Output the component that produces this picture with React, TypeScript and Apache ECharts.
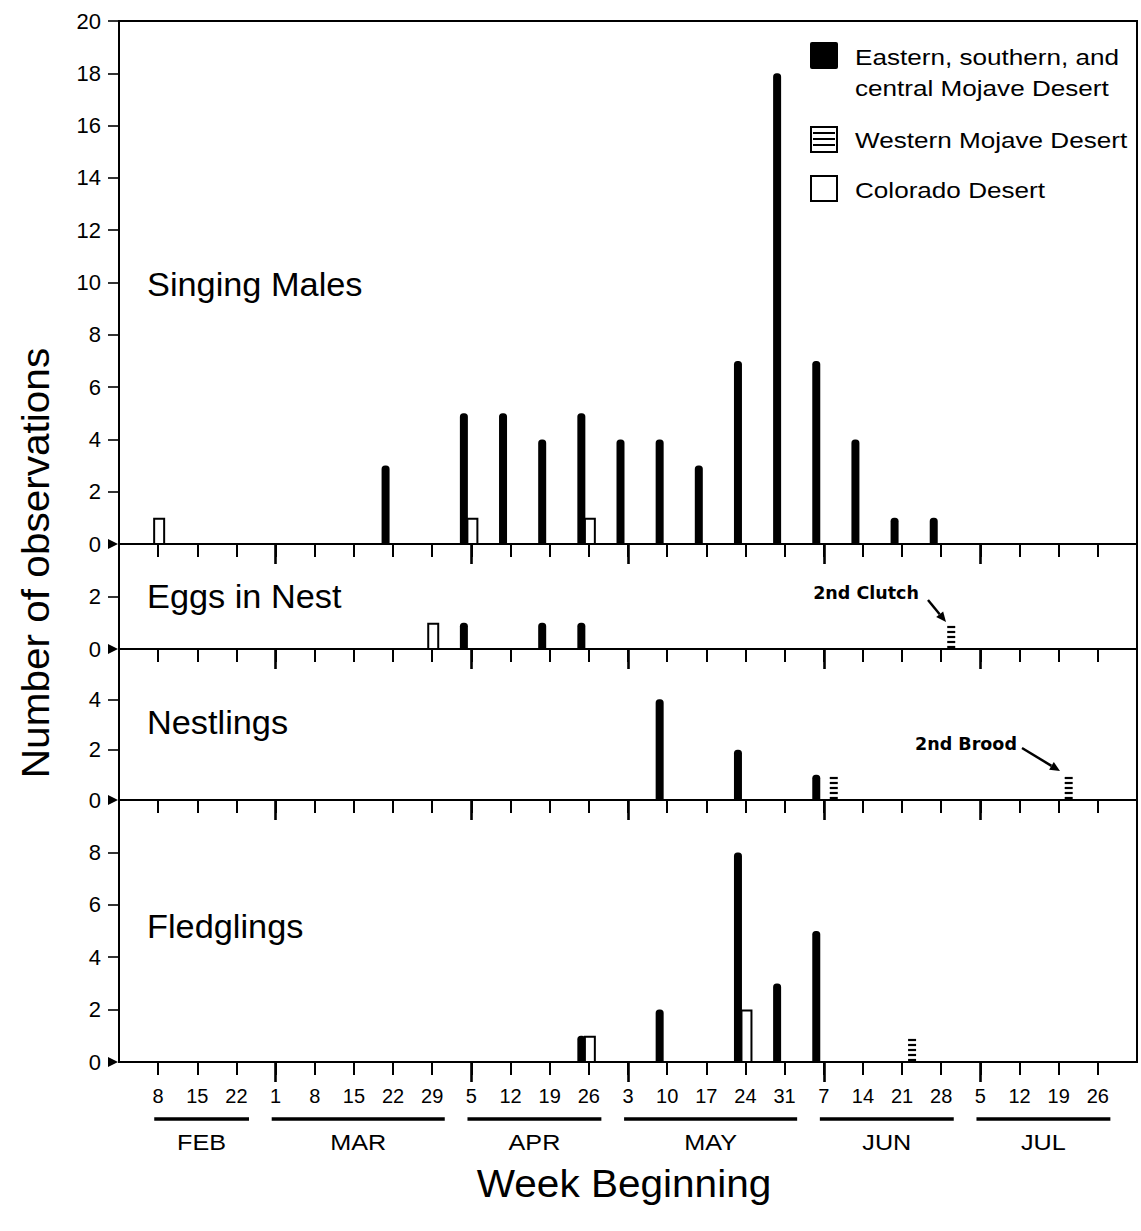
import React, { useEffect, useRef } from "react";
import * as echarts from "echarts";

// ---- categories (week beginning), index 0 = Feb 8 ----
const weekDays = [8, 15, 22, 1, 8, 15, 22, 29, 5, 12, 19, 26, 3, 10, 17, 24, 31, 7, 14, 21, 28, 5, 12, 19, 26];
const monthNames = ["FEB", "MAR", "APR", "MAY", "JUN", "JUL"];
const monthFirstWeek = [0, 3, 8, 12, 17, 21];
const monthLastWeek = [2, 7, 11, 16, 20, 24];

const panelTitles = ["Singing Males", "Eggs in Nest", "Nestlings", "Fledglings"];
const panelMax = [20, 4, 6, 10];
const panelTicks = [
  [0, 2, 4, 6, 8, 10, 12, 14, 16, 18, 20],
  [0, 2],
  [0, 2, 4],
  [0, 2, 4, 6, 8],
];

const legendEastern = ["Eastern, southern, and", "central Mojave Desert"];
const legendWestern = "Western Mojave Desert";
const legendColorado = "Colorado Desert";

// ---- series values per week ----
//                        F8 15 22 M1 8 15 22 29 A5 12 19 26 My3 10 17 24 31 J7 14 21 28 Jl5 12 19 26
const singingEastern    = [0, 0, 0, 0, 0, 0, 3, 0, 5, 5, 4, 5, 4, 4, 3, 7, 18, 7, 4, 1, 1, 0, 0, 0, 0];
const singingWestern    = [0, 0, 0, 0, 0, 0, 0, 0, 0, 0, 0, 0, 0, 0, 0, 0, 0, 0, 0, 0, 0, 0, 0, 0, 0];
const singingColorado   = [1, 0, 0, 0, 0, 0, 0, 0, 1, 0, 0, 1, 0, 0, 0, 0, 0, 0, 0, 0, 0, 0, 0, 0, 0];
const eggsEastern       = [0, 0, 0, 0, 0, 0, 0, 0, 1, 0, 1, 1, 0, 0, 0, 0, 0, 0, 0, 0, 0, 0, 0, 0, 0];
const eggsWestern       = [0, 0, 0, 0, 0, 0, 0, 0, 0, 0, 0, 0, 0, 0, 0, 0, 0, 0, 0, 0, 1, 0, 0, 0, 0];
const eggsColorado      = [0, 0, 0, 0, 0, 0, 0, 1, 0, 0, 0, 0, 0, 0, 0, 0, 0, 0, 0, 0, 0, 0, 0, 0, 0];
const nestlingsEastern  = [0, 0, 0, 0, 0, 0, 0, 0, 0, 0, 0, 0, 0, 4, 0, 2, 0, 1, 0, 0, 0, 0, 0, 0, 0];
const nestlingsWestern  = [0, 0, 0, 0, 0, 0, 0, 0, 0, 0, 0, 0, 0, 0, 0, 0, 0, 1, 0, 0, 0, 0, 0, 1, 0];
const nestlingsColorado = [0, 0, 0, 0, 0, 0, 0, 0, 0, 0, 0, 0, 0, 0, 0, 0, 0, 0, 0, 0, 0, 0, 0, 0, 0];
const fledglingsEastern = [0, 0, 0, 0, 0, 0, 0, 0, 0, 0, 0, 1, 0, 2, 0, 8, 3, 5, 0, 0, 0, 0, 0, 0, 0];
const fledglingsWestern = [0, 0, 0, 0, 0, 0, 0, 0, 0, 0, 0, 0, 0, 0, 0, 0, 0, 0, 0, 1, 0, 0, 0, 0, 0];
const fledglingsColorado= [0, 0, 0, 0, 0, 0, 0, 0, 0, 0, 0, 1, 0, 0, 0, 2, 0, 0, 0, 0, 0, 0, 0, 0, 0];

const panelData = [
  { eastern: singingEastern, western: singingWestern, colorado: singingColorado },
  { eastern: eggsEastern, western: eggsWestern, colorado: eggsColorado },
  { eastern: nestlingsEastern, western: nestlingsWestern, colorado: nestlingsColorado },
  { eastern: fledglingsEastern, western: fledglingsWestern, colorado: fledglingsColorado },
];

const FONT = "Liberation Sans, Arial, Helvetica, sans-serif";
const GRID_LEFT = 119;
const GRID_RIGHT = 4;
const panelTop = [21, 544, 649, 800];
const panelHeight = [523, 105, 151, 262];

const weekIdx = weekDays.map((_, i) => i);

function toPoints(arr: number[]) {
  const out: number[][] = [];
  arr.forEach((v, i) => {
    if (v > 0) out.push([i, v]);
  });
  return out;
}

function makeRender(kind: string) {
  return (params: any, api: any) => {
    const wk = api.value(0);
    const v = api.value(1);
    if (!v) return null;
    const top = api.coord([wk, v]);
    const base = api.coord([wk, 0]);
    const h = base[1] - top[1];
    if (kind === "eastern") {
      const cx = top[0] - 7.5;
      return {
        type: "rect",
        shape: { x: cx - 4, y: top[1], width: 8, height: h, r: [3.5, 3.5, 0, 0] },
        style: { fill: "#000" },
      };
    }
    if (kind === "colorado") {
      const cx = top[0] + 1;
      return {
        type: "rect",
        shape: { x: cx - 5, y: top[1] + 1, width: 10, height: h - 1 },
        style: { fill: "#fff", stroke: "#000", lineWidth: 2 },
      };
    }
    const cx = top[0] + 10;
    const children: any[] = [];
    for (let y = base[1] - 2; y > top[1]; y -= 5) {
      children.push({
        type: "line",
        shape: { x1: cx - 4, y1: y, x2: cx + 4, y2: y },
        style: { stroke: "#000", lineWidth: 2.2 },
      });
    }
    return { type: "group", children };
  };
}

function txt(text: string, x: number, y: number, size: number, align: string, scaleX = 1, extra: any = {}) {
  return {
    type: "text",
    x,
    y,
    scaleX,
    ...extra,
    style: { text, fontSize: size, fontFamily: FONT, fill: "#000", align, verticalAlign: "middle", ...(extra.style || {}) },
  };
}

export default function App() {
  const ref = useRef<HTMLDivElement>(null);

  useEffect(() => {
    const chart = echarts.init(ref.current as HTMLDivElement, null, { renderer: "svg" });

    const grids = panelTop.map((t, p) => ({
      left: GRID_LEFT,
      right: GRID_RIGHT,
      top: t,
      height: panelHeight[p],
      show: true,
      borderColor: "#000",
      borderWidth: 2,
      backgroundColor: "transparent",
      outerBoundsMode: "none",
      containLabel: false,
    }));

    const mainX = panelTop.map((_, p) => ({
      type: "value",
      gridIndex: p,
      min: -1,
      max: 25,
      interval: 1,
      position: "bottom",
      axisLine: { show: true, onZero: false, lineStyle: { color: "#000", width: 2 } },
      axisTick: { show: true, customValues: weekIdx, length: 13, lineStyle: { color: "#000", width: 2 } },
      axisLabel:
        p === 3
          ? {
              show: true,
              customValues: weekIdx,
              formatter: (v: number) => String(weekDays[Math.round(v)]),
              fontSize: 20,
              color: "#000",
              fontFamily: FONT,
              margin: 24,
            }
          : { show: false },
      splitLine: { show: false },
    }));

    const majorX = panelTop.map((_, p) => ({
      type: "value",
      gridIndex: p,
      min: -1,
      max: 25,
      interval: 1,
      position: "bottom",
      axisLine: { show: false, onZero: false },
      axisTick: { show: true, customValues: monthFirstWeek.slice(1), length: 20, lineStyle: { color: "#000", width: 2.6 } },
      axisLabel: { show: false },
      splitLine: { show: false },
    }));

    const yAxes = panelTop.map((_, p) => ({
      type: "value",
      gridIndex: p,
      min: 0,
      max: panelMax[p],
      interval: 2,
      position: "left",
      axisLine: { show: true, onZero: false, lineStyle: { color: "#000", width: 2 } },
      axisTick: {
        show: true,
        customValues: panelTicks[p].filter((v) => v > 0),
        length: 11,
        lineStyle: { color: "#000", width: 1.6 },
      },
      axisLabel: {
        show: true,
        customValues: panelTicks[p],
        fontSize: 22,
        color: "#000",
        fontFamily: FONT,
        margin: 18,
      },
      splitLine: { show: false },
    }));

    const series: any[] = [];
    panelData.forEach((d, p) => {
      (["colorado", "western", "eastern"] as const).forEach((kind) => {
        series.push({
          type: "custom",
          name: kind,
          xAxisIndex: p,
          yAxisIndex: p,
          clip: false,
          renderItem: makeRender(kind),
          encode: { x: 0, y: 1 },
          data: toPoints((d as any)[kind]),
        });
      });
    });

    chart.setOption({
      animation: false,
      backgroundColor: "#fff",
      textStyle: { fontFamily: FONT, color: "#000" },
      grid: grids,
      xAxis: [...mainX, ...majorX],
      yAxis: yAxes,
      series,
    });

    const px = (v: number) => chart.convertToPixel({ xAxisIndex: 3 }, v) as number;
    const py = (p: number, v: number) => chart.convertToPixel({ yAxisIndex: p }, v) as number;

    const g: any[] = [];

    // zero-tick triangles
    panelTop.forEach((_, p) => {
      const y0 = py(p, 0);
      g.push({
        type: "polygon",
        shape: { points: [[108, y0 - 5], [118, y0], [108, y0 + 5]] },
        style: { fill: "#000" },
      });
    });

    // panel titles
    const titleY = [285, 597, 723, 927];
    panelTitles.forEach((t, p) => {
      g.push(txt(t, 147, titleY[p], 33, "left", 1.04));
    });

    // month underlines and labels
    monthNames.forEach((m, i) => {
      const x1 = px(monthFirstWeek[i] - 0.1);
      const x2 = px(monthLastWeek[i] + 0.32);
      g.push({
        type: "line",
        shape: { x1, y1: 1119, x2, y2: 1119 },
        style: { stroke: "#000", lineWidth: 3.5 },
      });
      g.push(txt(m, (x1 + x2) / 2, 1142, 22.5, "center", 1.12));
    });

    // axis titles
    g.push(txt("Week Beginning", 624, 1183, 39, "center", 1.04));
    g.push(txt("Number of observations", 35, 563, 39, "center", 1.04, { rotation: Math.PI / 2 }));

    // legend
    const LS = 22.5;
    const LX = 1.16;
    g.push({ type: "rect", shape: { x: 810, y: 42, width: 28, height: 27, r: 2 }, style: { fill: "#000" } });
    g.push(txt(legendEastern[0], 855, 57, LS, "left", LX));
    g.push(txt(legendEastern[1], 855, 88, LS, "left", LX));
    g.push({ type: "rect", shape: { x: 811, y: 127, width: 26, height: 25 }, style: { fill: "#fff", stroke: "#000", lineWidth: 2 } });
    [133, 139, 145].forEach((y) => {
      g.push({ type: "line", shape: { x1: 813, y1: y, x2: 835, y2: y }, style: { stroke: "#000", lineWidth: 2 } });
    });
    g.push(txt(legendWestern, 855, 140, LS, "left", LX));
    g.push({ type: "rect", shape: { x: 811, y: 176, width: 26, height: 25 }, style: { fill: "#fff", stroke: "#000", lineWidth: 2 } });
    g.push(txt(legendColorado, 855, 190, LS, "left", LX));

    // annotations with arrows
    const notes = [
      { text: "2nd Clutch", x: 866, y: 593, ax1: 928, ay1: 600, ax2: 946, ay2: 622 },
      { text: "2nd Brood", x: 966, y: 744, ax1: 1022, ay1: 748, ax2: 1060, ay2: 771 },
    ];
    notes.forEach((n) => {
      g.push({
        type: "text",
        x: n.x,
        y: n.y,
        style: {
          text: n.text,
          fontSize: 17.5,
          fontWeight: "bold",
          fontFamily: "DejaVu Sans, sans-serif",
          fill: "#000",
          align: "center",
          verticalAlign: "middle",
        },
      });
      const dx = n.ax2 - n.ax1;
      const dy = n.ay2 - n.ay1;
      const len = Math.sqrt(dx * dx + dy * dy);
      const ux = dx / len;
      const uy = dy / len;
      const hl = 10;
      const hw = 4.5;
      const bx = n.ax2 - ux * hl;
      const by = n.ay2 - uy * hl;
      g.push({
        type: "line",
        shape: { x1: n.ax1, y1: n.ay1, x2: bx, y2: by },
        style: { stroke: "#000", lineWidth: 2.5 },
      });
      g.push({
        type: "polygon",
        shape: {
          points: [
            [n.ax2, n.ay2],
            [bx - uy * hw, by + ux * hw],
            [bx + uy * hw, by - ux * hw],
          ],
        },
        style: { fill: "#000" },
      });
    });

    chart.setOption({ graphic: g });

    return () => chart.dispose();
  }, []);

  return (
    <div
      ref={ref}
      style={{ position: "fixed", left: 0, top: 0, width: 1141, height: 1231, background: "#fff" }}
    />
  );
}
